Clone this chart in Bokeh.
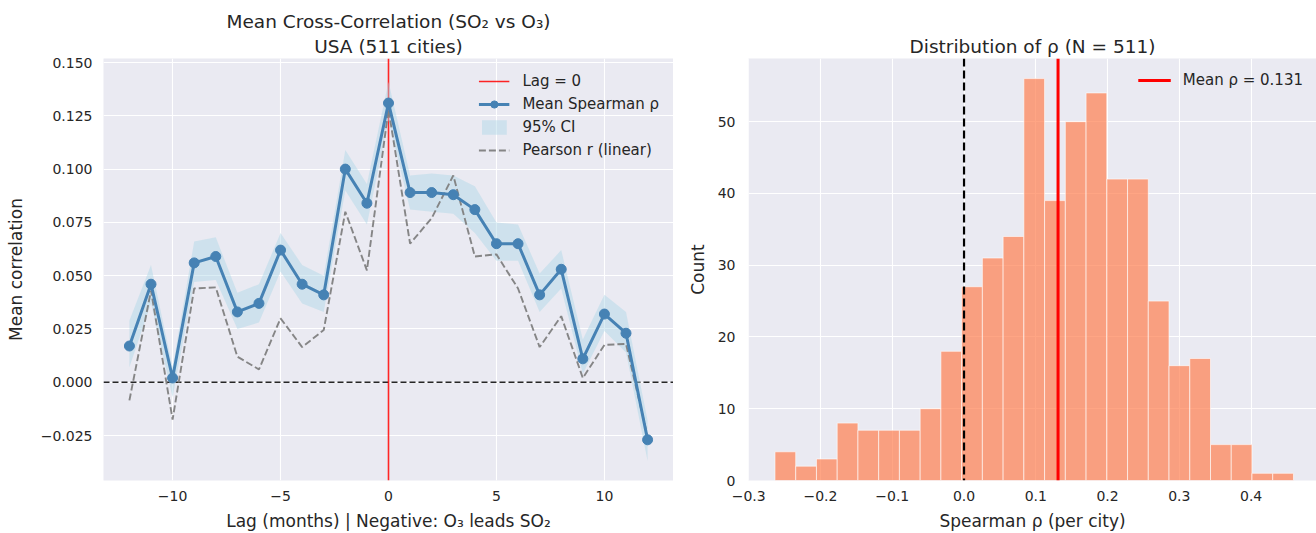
import numpy as np
from bokeh.plotting import figure
from bokeh.models import (ColumnDataSource, Span, Legend, LegendItem, FixedTicker,
                          CustomJSTickFormatter, Title, Range1d)
from bokeh.layouts import row
from bokeh.embed import file_html
from bokeh.resources import INLINE

# ---------------- data ----------------
lags = list(range(-12, 13))
spearman = [0.017, 0.046, 0.002, 0.056, 0.059, 0.033, 0.037, 0.062, 0.046, 0.041,
            0.100, 0.084, 0.131, 0.089, 0.089, 0.088, 0.081, 0.065, 0.065, 0.041,
            0.053, 0.011, 0.032, 0.023, -0.027]
ci_low = [0.007, 0.037, -0.007, 0.047, 0.048, 0.025, 0.028, 0.052, 0.037, 0.033,
          0.090, 0.074, 0.123, 0.081, 0.080, 0.079, 0.070, 0.057, 0.057, 0.033,
          0.044, 0.004, 0.024, 0.014, -0.037]
ci_high = [0.029, 0.055, 0.007, 0.066, 0.068, 0.042, 0.046, 0.070, 0.055, 0.050,
           0.109, 0.093, 0.141, 0.097, 0.098, 0.097, 0.092, 0.075, 0.074, 0.051,
           0.062, 0.020, 0.041, 0.033, -0.018]
pearson = [-0.0085, 0.043, -0.0175, 0.044, 0.0445, 0.012, 0.006, 0.030, 0.0165, 0.0245,
           0.080, 0.0525, 0.128, 0.065, 0.077, 0.097, 0.059, 0.060, 0.044, 0.0165,
           0.031, 0.002, 0.0175, 0.018, -0.0255]
lag_zero = 0

rho_bin_lo = -0.2634
rho_bin_hi = 0.4590
rho_counts = [4, 2, 3, 8, 7, 7, 7, 10, 18, 27, 31, 34, 56, 39, 50, 54, 42, 42,
              25, 16, 17, 5, 5, 1, 1]
mean_rho = 0.131
n_cities = 511

left_xticks = [-10, -5, 0, 5, 10]
left_yticks = [-0.025, 0.0, 0.025, 0.05, 0.075, 0.1, 0.125, 0.15]
right_xticks = [-0.3, -0.2, -0.1, 0.0, 0.1, 0.2, 0.3, 0.4]
right_yticks = [0, 10, 20, 30, 40, 50]

# ---------------- style ----------------
FONT = "DejaVu Sans"
TXT = "#262626"
BG = "#EAEAF2"
NAN = float("nan")


def style(p, xstand=10, ystand=11, ylab_stand=8, xlab_stand=7):
    p.background_fill_color = BG
    p.border_fill_color = "white"
    p.outline_line_color = None
    for ax in p.axis:
        ax.axis_line_color = None
        ax.major_tick_line_color = None
        ax.minor_tick_line_color = None
        ax.major_tick_out = 0
        ax.major_tick_in = 0
        ax.minor_tick_out = 0
        ax.minor_tick_in = 0
        ax.major_label_text_font = FONT
        ax.major_label_text_font_size = "14px"
        ax.major_label_text_color = TXT
        ax.axis_label_text_font = FONT
        ax.axis_label_text_font_size = "17px"
        ax.axis_label_text_font_style = "normal"
        ax.axis_label_text_color = TXT
    p.xaxis.major_label_standoff = xstand
    p.yaxis.major_label_standoff = ystand
    p.xaxis.axis_label_standoff = xlab_stand
    p.yaxis.axis_label_standoff = ylab_stand
    p.grid.grid_line_color = "white"
    p.grid.grid_line_width = 1.1


def add_title(p, text, standoff):
    t = Title(text=text, align="center", text_font=FONT, text_font_size="18.5px",
              text_font_style="normal", text_color=TXT)
    if hasattr(t, "standoff"):
        t.standoff = standoff
    p.add_layout(t, "above")


def fmt(dec):
    return CustomJSTickFormatter(
        code="return tick.toFixed(%d).replace('-', '\u2212');" % dec)


H = 533
TOP = 58
BOTTOM = 52

# ---------------- left: cross-correlation ----------------
p1 = figure(width=673, height=H, title=None,
            x_range=Range1d(-13.2, 13.2), y_range=Range1d(-0.0461, 0.1519),
            output_backend="svg", toolbar_location=None,
            min_border_left=103, min_border_right=0, min_border_top=TOP,
            min_border_bottom=BOTTOM)
add_title(p1, "USA (%d cities)" % n_cities, 4)
add_title(p1, "Mean Cross-Correlation (SO\u2082 vs O\u2083)", 0)

src = ColumnDataSource(dict(lag=lags, rho=spearman, lo=ci_low, hi=ci_high, r=pearson))

zero_h = Span(location=0, dimension="width", line_color="black", line_alpha=0.85,
              line_dash="6 3", line_width=1.4, level="underlay")
lag_span = Span(location=lag_zero, dimension="height", line_color="red",
                line_alpha=0.85, line_width=1.6, level="underlay")
p1.add_layout(zero_h)
p1.add_layout(lag_span)

band = p1.varea(x="lag", y1="lo", y2="hi", source=src, fill_color="lightblue",
                fill_alpha=0.45)
pear = p1.line(x="lag", y="r", source=src, line_color="gray", line_alpha=0.95,
               line_width=1.9, line_dash="7 3")
lag_leg = p1.line(x=[NAN], y=[NAN], line_color="red", line_alpha=0.85, line_width=1.6)
sp_line = p1.line(x="lag", y="rho", source=src, line_color="steelblue", line_width=3)
sp_pts = p1.scatter(x="lag", y="rho", source=src, size=10, fill_color="steelblue",
                    line_color="steelblue")

p1.xaxis.ticker = FixedTicker(ticks=left_xticks)
p1.yaxis.ticker = FixedTicker(ticks=left_yticks)
p1.xaxis.formatter = fmt(0)
p1.yaxis.formatter = fmt(3)
p1.xaxis.axis_label = "Lag (months) | Negative: O\u2083 leads SO\u2082"
p1.yaxis.axis_label = "Mean correlation"
style(p1, ylab_stand=12)

leg1 = Legend(items=[
    LegendItem(label="Lag = 0", renderers=[lag_leg]),
    LegendItem(label="Mean Spearman \u03c1", renderers=[sp_line, sp_pts]),
    LegendItem(label="95% CI", renderers=[band]),
    LegendItem(label="Pearson r (linear)", renderers=[pear]),
], location="top_right", margin=14, padding=5, spacing=5,
    glyph_width=31, glyph_height=18, label_height=18, label_standoff=13,
    label_text_font=FONT, label_text_font_size="15px", label_text_color=TXT,
    background_fill_alpha=0, border_line_color=None)
p1.add_layout(leg1)

# ---------------- right: histogram ----------------
p2 = figure(width=643, height=H, title=None,
            x_range=Range1d(-0.3003, 0.4911), y_range=Range1d(0, 58.8),
            output_backend="svg", toolbar_location=None,
            min_border_left=75, min_border_right=0, min_border_top=TOP,
            min_border_bottom=BOTTOM)
add_title(p2, "Distribution of \u03c1 (N = %d)" % n_cities, 4)

edges = np.linspace(rho_bin_lo, rho_bin_hi, len(rho_counts) + 1)
hsrc = ColumnDataSource(dict(left=edges[:-1], right=edges[1:], top=rho_counts))
p2.quad(left="left", right="right", top="top", bottom=0, source=hsrc,
        fill_color="coral", fill_alpha=0.7, line_color="white", line_alpha=0.6,
        line_width=1)

p2.add_layout(Span(location=0, dimension="height", line_color="black",
                   line_width=2.2, line_dash="8 4"))
p2.add_layout(Span(location=mean_rho, dimension="height", line_color="red",
                   line_width=3))
mean_leg = p2.line(x=[NAN], y=[NAN], line_color="red", line_width=3)

p2.xaxis.ticker = FixedTicker(ticks=right_xticks)
p2.yaxis.ticker = FixedTicker(ticks=right_yticks)
p2.xaxis.formatter = fmt(1)
p2.yaxis.formatter = fmt(0)
p2.xaxis.axis_label = "Spearman \u03c1 (per city)"
p2.yaxis.axis_label = "Count"
style(p2, ystand=13, ylab_stand=7)

leg2 = Legend(items=[LegendItem(label="Mean \u03c1 = %.3f" % mean_rho,
                                renderers=[mean_leg])],
              location="top_right", margin=13, padding=5,
              glyph_width=33, glyph_height=18, label_height=18, label_standoff=12,
              label_text_font=FONT, label_text_font_size="15px", label_text_color=TXT,
              background_fill_alpha=0, border_line_color=None)
p2.add_layout(leg2)

layout = row(p1, p2)
open("out.html", "w").write(file_html(layout, INLINE))
